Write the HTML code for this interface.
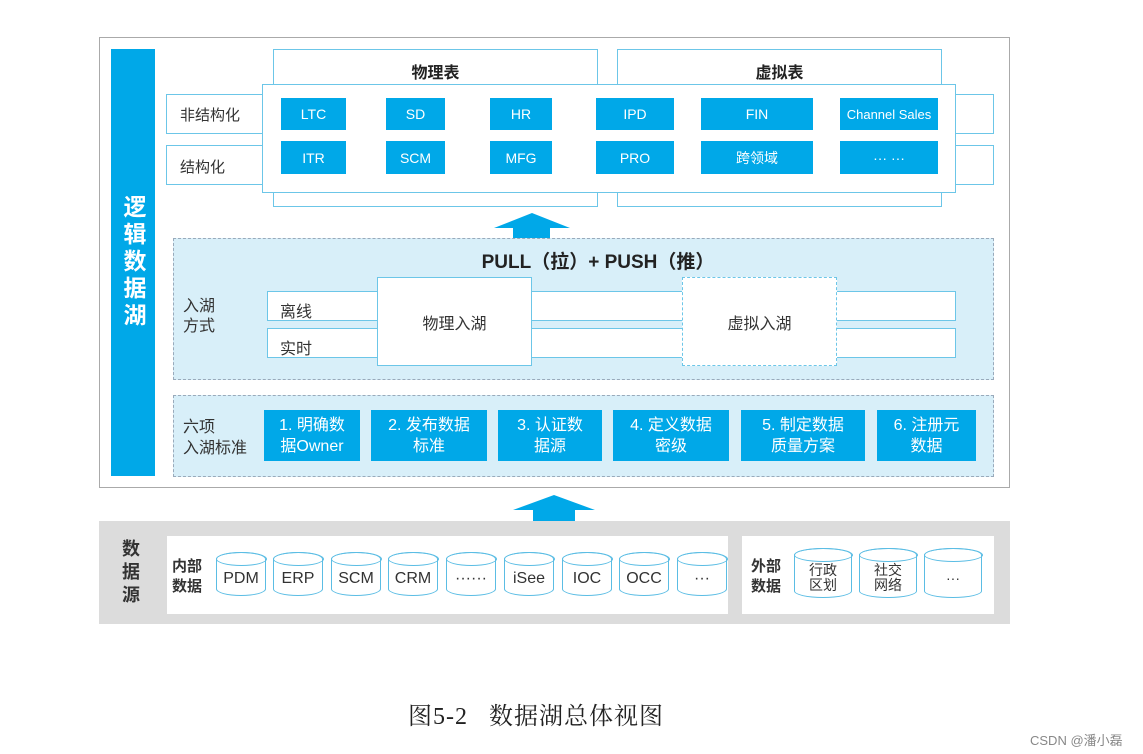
<!DOCTYPE html>
<html><head><meta charset="utf-8"><style>
body{margin:0;width:1143px;height:754px;background:#fff;position:relative;overflow:hidden;font-family:"Liberation Sans","Noto Sans CJK SC",sans-serif;}
div{position:absolute;box-sizing:border-box;}
.b{background:#00a8e8;color:#fff;display:flex;align-items:center;justify-content:center;text-align:center;font-size:14px;}
.wb{background:#fff;border:1.5px solid #6cc6e8;}
.lbl{color:#333;font-size:15px;}
.cy{width:50px;height:44px;border:1.5px solid #5bbde4;border-radius:25px/7px;background:#fff;display:flex;align-items:center;justify-content:center;font-size:16px;color:#333;line-height:1.05;text-align:center;padding-top:10px}
.cy:before{content:"";position:absolute;left:-1.5px;right:-1.5px;top:-1.5px;height:14px;border:1.5px solid #5bbde4;border-radius:50%;box-sizing:border-box}
.six{background:#00a8e8;color:#fff;display:flex;align-items:center;justify-content:center;text-align:center;font-size:16px;line-height:21px;top:410px;height:51px}
</style></head><body>
<div style="left:99px;top:37px;width:911px;height:451px;border:1.5px solid #aaa"></div>
<div class="b" style="left:111px;top:49px;width:44px;height:427px;font-size:23px;font-weight:bold;line-height:28px;writing-mode:vertical-rl;letter-spacing:4px">逻辑数据湖</div>

<div class="wb" style="left:273px;top:49px;width:325px;height:158px;display:flex;justify-content:center;padding-top:9px;font-weight:bold;font-size:16px;color:#222">物理表</div>
<div class="wb" style="left:617px;top:49px;width:325px;height:158px;display:flex;justify-content:center;padding-top:9px;font-weight:bold;font-size:16px;color:#222">虚拟表</div>
<div class="wb" style="left:166px;top:94px;width:828px;height:40px"></div>
<div class="wb" style="left:166px;top:145px;width:828px;height:40px"></div>
<div class="lbl" style="left:180px;top:104px">非结构化</div>
<div class="lbl" style="left:180px;top:156px">结构化</div>
<div class="wb" style="left:262px;top:84px;width:694px;height:109px"></div>
<div class="b" style="left:281px;top:98px;width:65px;height:32px">LTC</div>
<div class="b" style="left:386px;top:98px;width:59px;height:32px">SD</div>
<div class="b" style="left:490px;top:98px;width:62px;height:32px">HR</div>
<div class="b" style="left:596px;top:98px;width:78px;height:32px">IPD</div>
<div class="b" style="left:701px;top:98px;width:112px;height:32px">FIN</div>
<div class="b" style="left:840px;top:98px;width:98px;height:32px;font-size:13px;white-space:nowrap">Channel Sales</div>
<div class="b" style="left:281px;top:141px;width:65px;height:33px">ITR</div>
<div class="b" style="left:386px;top:141px;width:59px;height:33px">SCM</div>
<div class="b" style="left:490px;top:141px;width:62px;height:33px">MFG</div>
<div class="b" style="left:596px;top:141px;width:78px;height:33px">PRO</div>
<div class="b" style="left:701px;top:141px;width:112px;height:33px">跨领域</div>
<div class="b" style="left:840px;top:141px;width:98px;height:33px">··· ···</div>

<svg style="position:absolute;left:0;top:0" width="1143" height="754">
<polygon points="532,213 570,228 550,228 550,243 513,243 513,228 494,228" fill="#00a8e8"/>
<polygon points="554,495 595,510 575,510 575,526 533,526 533,510 513,510" fill="#00a8e8"/>
</svg>

<div style="left:173px;top:238px;width:821px;height:142px;background:#d8eff9;border:1.5px dashed #9ab"></div>
<div style="left:420px;top:247px;width:356px;text-align:center;font-size:19px;font-weight:bold;color:#222">PULL（拉）+ PUSH（推）</div>
<div class="lbl" style="left:183px;top:297px;font-size:16px;line-height:20px">入湖<br>方式</div>
<div class="wb" style="left:267px;top:291px;width:689px;height:30px"></div>
<div class="wb" style="left:267px;top:328px;width:689px;height:30px"></div>
<div class="lbl" style="left:280px;top:298px;font-size:16px">离线</div>
<div class="lbl" style="left:280px;top:335px;font-size:16px">实时</div>
<div class="wb" style="left:377px;top:277px;width:155px;height:89px;display:flex;align-items:center;justify-content:center;font-size:16px;color:#333">物理入湖</div>
<div style="left:682px;top:277px;width:155px;height:89px;background:#fff;border:1.5px dashed #6cc6e8;display:flex;align-items:center;justify-content:center;font-size:16px;color:#333">虚拟入湖</div>

<div style="left:173px;top:395px;width:821px;height:82px;background:#d8eff9;border:1.5px dashed #9ab"></div>
<div class="lbl" style="left:183px;top:417px;font-size:16px;line-height:21px">六项<br>入湖标准</div>
<div class="six" style="left:264px;width:96px">1. 明确数<br>据Owner</div>
<div class="six" style="left:371px;width:116px">2. 发布数据<br>标准</div>
<div class="six" style="left:498px;width:104px">3. 认证数<br>据源</div>
<div class="six" style="left:613px;width:116px">4. 定义数据<br>密级</div>
<div class="six" style="left:741px;width:124px">5. 制定数据<br>质量方案</div>
<div class="six" style="left:877px;width:99px">6. 注册元<br>数据</div>

<div style="left:99px;top:521px;width:911px;height:103px;background:#dcdcdc"></div>
<div style="left:122px;top:538px;font-size:18px;font-weight:bold;line-height:23px;color:#333;width:24px">数据源</div>
<div style="left:167px;top:536px;width:561px;height:78px;background:#fff"></div>
<div style="left:742px;top:536px;width:252px;height:78px;background:#fff"></div>
<div style="left:172px;top:557px;font-size:15px;font-weight:bold;line-height:20px;color:#333">内部<br>数据</div>
<div style="left:751px;top:557px;font-size:15px;font-weight:bold;line-height:20px;color:#333">外部<br>数据</div>
<div class="cy" style="left:216px;top:552px">PDM</div>
<div class="cy" style="left:273px;top:552px">ERP</div>
<div class="cy" style="left:331px;top:552px">SCM</div>
<div class="cy" style="left:388px;top:552px">CRM</div>
<div class="cy" style="left:446px;top:552px">······</div>
<div class="cy" style="left:504px;top:552px">iSee</div>
<div class="cy" style="left:562px;top:552px">IOC</div>
<div class="cy" style="left:619px;top:552px">OCC</div>
<div class="cy" style="left:677px;top:552px">···</div>
<div class="cy" style="left:794px;top:548px;width:58px;height:50px;font-size:14px;border-radius:29px/7px">行政<br>区划</div>
<div class="cy" style="left:859px;top:548px;width:58px;height:50px;font-size:14px;border-radius:29px/7px">社交<br>网络</div>
<div class="cy" style="left:924px;top:548px;width:58px;height:50px;font-size:14px;border-radius:29px/7px">···</div>

<div style="left:408px;top:696px;font-family:'Liberation Serif','Noto Serif CJK SC',serif;font-size:24px;color:#222;letter-spacing:1px;white-space:nowrap">图5-2&nbsp;&nbsp;&nbsp;数据湖总体视图</div>
<div style="left:1030px;top:730px;font-size:13px;color:#888;white-space:nowrap">CSDN @潘小磊</div>
</body></html>
